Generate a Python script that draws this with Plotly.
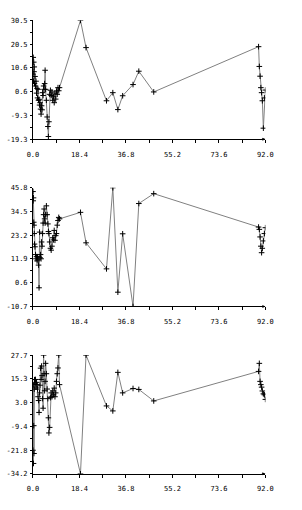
import numpy as np
import plotly.graph_objects as go

# shared x values
x_vals = [0.0, 0.1, 0.2, 0.3, 0.4, 0.5, 0.6, 0.8, 1.0, 1.2, 1.4, 1.6, 1.8, 2.0, 2.2, 2.4,
          2.6, 2.8, 3.0, 3.2, 3.4, 3.6, 3.8, 4.0, 4.2, 4.4, 4.6, 4.8, 5.0, 5.3, 5.6, 5.9,
          6.1, 6.3, 6.6, 6.9, 7.2, 7.5, 7.8, 8.1, 8.4, 8.7, 9.0, 9.3, 9.6, 9.9, 10.2, 10.5,
          18.8, 21.0, 29.1, 31.6, 33.6, 35.5, 39.6, 41.9, 47.8,
          89.3, 89.6, 89.9, 90.2, 90.5, 90.8, 91.2, 91.6, 92.0]

series_1 = [8, 15, 5, 13, 9, 11, 4, 7, 3, 5, 0, 2, -2, 1.6, -3, -2.6,
            -5, -4, -6.7, -8.8, -5.3, -7, 0.2, -1, 3, 1.6, 4, 9.6, 1.6, -3, -10, -14,
            -18.2, -12, -0.5, 1.2, -1, 0.5, -3, -1.5, -4, 0, -2.5, 0.9, -0.5, 2.3, 1.0, 2.3,
            30.5, 19.1, -3.2, 0.2, -6.9, -1.1, 3.6, 9.2, 0.5,
            19.5, 11.2, 7.1, 2.3, 0.2, -3.2, -14.7, -2.0, 1.3]

series_2 = [44, 39.6, 41, 29.4, 28, 24, 19, 17.7, 14, 12, 13, 11, 13, 11.5, 9, -1.8,
            24.7, 12.5, 14, 12, 20, 18, 24, 29, 33, 35.7, 31, 29, 33, 37.2, 33, 28.6,
            25, 24, 20, 17, 16.1, 18, 22, 21, 25.5, 20.8, 23, 24, 28, 30.2, 31.7, 31.0,
            34.1, 19.6, 7.2, 45.8, -3.9, 23.9, -10.7, 38.3, 43.0,
            27.1, 26.0, 22.4, 18.0, 14.9, 17.0, 20.5, 24.0, 26.8]

series_3 = [-21.9, 12.3, -28.8, -9.1, -23.6, 10, 14.9, 13, 15, 11, 13.5, 12.3, 10, 6, 4, -2.2,
            8, 12, 20.9, 15, 22, 17, 5, 0, 27.7, 18, 9.1, 14, 23.4, 18, 10, 5,
            -5, -12.9, -10, 5.5, 8, 6, 9, 7, 10.5, 6, 8, 14.0, 18, 21, 27.7, 12.3,
            -34.2, 27.7, 1.2, -1.4, 18.7, 8.0, 10.3, 9.8, 3.8,
            19.2, 23.4, 14, 12.3, 11, 9, 7.5, 7, 4.6]

y_ranges = [(-19.3, 30.5), (-10.7, 45.8), (-34.2, 27.7)]
x_tick_vals = [0.0, 18.4, 36.8, 55.2, 73.6, 92.0]
x_tick_text = ["0.0", "18.4", "36.8", "55.2", "73.6", "92.0"]
y_tick_text = [["-19.3", "-9.3", "0.6", "10.6", "20.5", "30.5"],
               ["-10.7", "0.6", "11.9", "23.2", "34.5", "45.8"],
               ["-34.2", "-21.8", "-9.4", "3.0", "15.3", "27.7"]]

W, H = 302, 510
x_dom = [28.3 / W, 272.0 / W]
panel_px = [(16.7, 137.3), (186.7, 307.3), (356.7, 477.3)]

FONT = dict(family="DejaVu Sans Mono", size=7, color="black")

fig = go.Figure()
for i, ys in enumerate([series_1, series_2, series_3]):
    n = i + 1
    fig.add_trace(go.Scatter(
        x=x_vals, y=ys, mode="lines+markers",
        line=dict(color="#808080", width=1),
        marker=dict(symbol="cross-thin", size=4, line=dict(color="black", width=1), color="black"),
        xaxis="x" if n == 1 else f"x{n}", yaxis="y" if n == 1 else f"y{n}",
        showlegend=False, hoverinfo="skip"))
    lo, hi = y_ranges[i]
    top, bot = panel_px[i]
    yv = list(np.linspace(lo, hi, 6))
    xa = dict(domain=x_dom, range=[0, 92], anchor="y" if n == 1 else f"y{n}",
              tickvals=x_tick_vals, ticktext=x_tick_text, ticks="outside", ticklen=3,
              tickcolor="black", tickwidth=1,
              minor=dict(dtick=9.2, tick0=0, ticks="outside", ticklen=3, tickcolor="black"),
              showline=True, linecolor="black", linewidth=1, showgrid=False, zeroline=False,
              tickfont=FONT, ticklabelstandoff=5)
    ya = dict(domain=[1 - bot / H, 1 - top / H], range=[lo, hi],
              anchor="x" if n == 1 else f"x{n}",
              tickvals=yv, ticktext=y_tick_text[i], ticks="outside", ticklen=2,
              tickcolor="black", tickwidth=1,
              minor=dict(tickvals=[(a + b) / 2 for a, b in zip(yv[:-1], yv[1:])],
                         ticks="outside", ticklen=2, tickcolor="black"),
              showline=True, linecolor="black", linewidth=1, showgrid=False, zeroline=False,
              tickfont=FONT, ticklabelstandoff=1)
    fig.layout["xaxis" if n == 1 else f"xaxis{n}"] = xa
    fig.layout["yaxis" if n == 1 else f"yaxis{n}"] = ya
    fig.add_annotation(x=92, y=lo, xref="x" if n == 1 else f"x{n}", yref="y" if n == 1 else f"y{n}",
                       ax=-5, ay=0, axref="pixel", ayref="pixel", showarrow=True,
                       arrowhead=2, arrowsize=0.6, arrowwidth=1, arrowcolor="black", text="")

fig.update_layout(width=W, height=H, margin=dict(l=0, r=0, t=0, b=0),
                  paper_bgcolor="white", plot_bgcolor="white", font=FONT)
fig.write_html("out.html")
